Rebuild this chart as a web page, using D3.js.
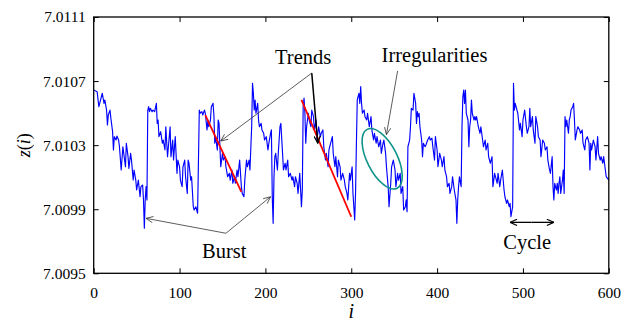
<!DOCTYPE html>
<html>
<head>
<meta charset="utf-8">
<script src="https://cdn.jsdelivr.net/npm/d3@7"></script>
<style>
  body { margin: 0; background: #fff; }
  svg { display: block; font-family: "Liberation Serif", "Times New Roman", serif; }
</style>
</head>
<body>
<script>
(function (d3) {
  "use strict";

  /***** Data *****/
  var xTicks = [0, 100, 200, 300, 400, 500, 600];
  var yTicks = [7.0095, 7.0099, 7.0103, 7.0107, 7.0111];

  // [i, z(i)]
  var series = [
    [0,7.010644],[4,7.010634],[6,7.010540],[8,7.010582],[10,7.010624],[12,7.010561],[13,7.010582],[15,7.010519],
    [16,7.010426],[17,7.010488],[19,7.010519],[20,7.010468],[22,7.010384],[23,7.010270],[24,7.010353],[26,7.010332],
    [27,7.010357],[29,7.010332],[30,7.010290],[32,7.010145],[34,7.010290],[35,7.010249],[37,7.010165],[38,7.010312],
    [40,7.010228],[41,7.010155],[43,7.010249],[44,7.010207],[46,7.010082],[47,7.010145],[49,7.010082],[50,7.010020],
    [52,7.010082],[54,7.009978],[55,7.010041],[57,7.010051],[58,7.009958],[59,7.009781],[60,7.009958],[61,7.010041],
    [62,7.009958],[63,7.010519],[64,7.010540],[65,7.010509],[66,7.010530],[68,7.010509],[69,7.010519],[71,7.010509],
    [73,7.010561],[74,7.010436],[75,7.010457],[76,7.010353],[78,7.010384],[80,7.010312],[81,7.010332],[83,7.010270],
    [84,7.010415],[86,7.010228],[87,7.010290],[89,7.010415],[90,7.010228],[92,7.010332],[93,7.010207],[95,7.010353],
    [97,7.010124],[98,7.010207],[100,7.010165],[101,7.010082],[103,7.010041],[104,7.010165],[106,7.010207],[107,7.010103],
    [109,7.009999],[110,7.010207],[111,7.010187],[113,7.010082],[114,7.010103],[116,7.009916],[117,7.009895],[119,7.009916],
    [121,7.009875],[123,7.010519],[124,7.010499],[126,7.010509],[127,7.010488],[129,7.010519],[130,7.010499],[132,7.010395],
    [133,7.010457],[134,7.010415],[136,7.010457],[137,7.010540],[139,7.010561],[140,7.010488],[141,7.010312],[142,7.010353],
    [144,7.010270],[145,7.010457],[146,7.010436],[147,7.010290],[148,7.010165],[150,7.010249],[151,7.010207],[153,7.010228],
    [154,7.010165],[156,7.010103],[158,7.010124],[159,7.010082],[161,7.010145],[162,7.010062],[164,7.010103],[165,7.010062],
    [167,7.010145],[168,7.010103],[170,7.010207],[172,7.010041],[173,7.009999],[175,7.009978],[176,7.010082],[178,7.010207],
    [179,7.010165],[181,7.010207],[182,7.010145],[184,7.010415],[185,7.010686],[186,7.010624],[187,7.010519],[188,7.010582],
    [189,7.010499],[191,7.010561],[192,7.010457],[193,7.010415],[195,7.010436],[196,7.010395],[198,7.010374],[199,7.010332],
    [201,7.010353],[203,7.010270],[204,7.010312],[206,7.010374],[207,7.010395],[208,7.009978],[209,7.009812],[210,7.010103],
    [211,7.010228],[212,7.010249],[214,7.010145],[215,7.010249],[217,7.010415],[218,7.010436],[220,7.010249],[221,7.010145],
    [223,7.010187],[224,7.010145],[226,7.010207],[227,7.010103],[229,7.010124],[231,7.010082],[232,7.010103],[234,7.010041],
    [235,7.010103],[237,7.010062],[238,7.009999],[240,7.010124],[241,7.010020],[242,7.009916],[243,7.010020],[244,7.010540],
    [245,7.010594],[246,7.010499],[247,7.010312],[248,7.010415],[250,7.010499],[251,7.010457],[253,7.010415],[254,7.010519],
    [256,7.010478],[257,7.010395],[259,7.010457],[260,7.010332],[262,7.010415],[264,7.010353],[265,7.010374],[267,7.010395],
    [268,7.010290],[270,7.010207],[271,7.010249],[273,7.010165],[274,7.010270],[276,7.010312],[278,7.010353],[279,7.010249],
    [281,7.010165],[282,7.010228],[284,7.010103],[285,7.010207],[287,7.010165],[288,7.010082],[290,7.010124],[292,7.010082],
    [293,7.010041],[295,7.009999],[296,7.009958],[298,7.010124],[299,7.010082],[301,7.010165],[302,7.009999],[304,7.009833],
    [305,7.009999],[306,7.010312],[307,7.010582],[309,7.010624],[310,7.010561],[311,7.010665],[312,7.010561],[313,7.010499],
    [315,7.010519],[316,7.010478],[318,7.010457],[319,7.010499],[321,7.010415],[323,7.010478],[324,7.010395],[326,7.010332],
    [327,7.010374],[329,7.010312],[330,7.010353],[332,7.010290],[334,7.010332],[335,7.010249],[337,7.010312],[338,7.010332],
    [340,7.010249],[341,7.010165],[343,7.010041],[344,7.009916],[346,7.010062],[347,7.010165],[349,7.010207],[351,7.010145],
    [352,7.010041],[354,7.010124],[355,7.010082],[357,7.010124],[358,7.009999],[360,7.010041],[361,7.009895],[363,7.009916],
    [364,7.009958],[365,7.009885],[366,7.010290],[368,7.010332],[369,7.010415],[370,7.010530],[372,7.010519],[373,7.010624],
    [375,7.010561],[376,7.010436],[377,7.010509],[378,7.010478],[379,7.010499],[380,7.010415],[382,7.010332],[383,7.010228],
    [384,7.010312],[386,7.010290],[387,7.010301],[389,7.010332],[391,7.010353],[392,7.010332],[394,7.010343],[395,7.010290],
    [397,7.010207],[398,7.010353],[400,7.010270],[401,7.010165],[403,7.010249],[405,7.010207],[406,7.010165],[408,7.010228],
    [409,7.010145],[411,7.010103],[412,7.010041],[414,7.010062],[415,7.009999],[417,7.010041],[418,7.010103],[420,7.010020],
    [422,7.009958],[423,7.009812],[424,7.009958],[425,7.010041],[426,7.010103],[428,7.010041],[429,7.010415],[430,7.010602],
    [431,7.010644],[432,7.010561],[433,7.010644],[434,7.010499],[436,7.010457],[437,7.010290],[438,7.010415],[439,7.010457],
    [440,7.010582],[441,7.010499],[443,7.010457],[444,7.010478],[445,7.010457],[446,7.010478],[448,7.010415],[450,7.010374],
    [451,7.010415],[453,7.010332],[454,7.010290],[456,7.010332],[457,7.010270],[459,7.010312],[460,7.010228],[462,7.010187],
    [464,7.010228],[465,7.010041],[467,7.010124],[468,7.010103],[470,7.010062],[471,7.010124],[473,7.010041],[474,7.010082],
    [476,7.010145],[478,7.010020],[479,7.009978],[481,7.009937],[482,7.009958],[484,7.009916],[485,7.009937],[486,7.009853],
    [488,7.009916],[489,7.010686],[490,7.010519],[491,7.010561],[493,7.010519],[494,7.010499],[496,7.010395],[497,7.010436],
    [499,7.010353],[500,7.010457],[502,7.010519],[504,7.010415],[505,7.010374],[507,7.010415],[508,7.010530],[509,7.010415],
    [511,7.010478],[512,7.010395],[514,7.010312],[515,7.010478],[517,7.010415],[518,7.010353],[520,7.010332],[521,7.010228],
    [523,7.010332],[525,7.010312],[526,7.010270],[528,7.010290],[529,7.010207],[531,7.010145],[532,7.010124],[534,7.010228],
    [535,7.010041],[536,7.009958],[537,7.010062],[539,7.010020],[540,7.010062],[541,7.009999],[542,7.010062],[543,7.010103],
    [544,7.009999],[546,7.010082],[547,7.010145],[548,7.009999],[549,7.010478],[550,7.010415],[551,7.010457],[553,7.010374],
    [554,7.010457],[555,7.010478],[556,7.010519],[558,7.010540],[559,7.010561],[560,7.010457],[561,7.010332],[563,7.010395],
    [564,7.010415],[566,7.010395],[567,7.010374],[569,7.010395],[570,7.010312],[572,7.010270],[573,7.010332],[575,7.010353],
    [577,7.010312],[578,7.010145],[579,7.010312],[580,7.010270],[582,7.010332],[584,7.010290],[585,7.010207],[587,7.010353],
    [588,7.010249],[590,7.010207],[591,7.010228],[593,7.010187],[594,7.010228],[596,7.010145],[597,7.010103],[600,7.010082]
  ];

  // trend lines (red), endpoints [i, z]
  var trendLines = [
    [[130, 7.010488], [172, 7.010009]],
    [[242, 7.010582], [300, 7.009853]]
  ];

  // annotation labels, anchored at [i, z]
  var labels = [
    { text: "Trends", at: [244, 7.010806] },
    { text: "Irregularities", at: [397, 7.010821] },
    { text: "Burst", at: [152, 7.009597] },
    { text: "Cycle", at: [505, 7.009649] }
  ];

  // arrows: from -> to, in [i, z]
  var arrows = [
    { from: [254, 7.010750], to: [148, 7.010326], kind: "thin" },
    { from: [254, 7.010750], to: [261, 7.010313], kind: "bold" },
    { from: [354, 7.010763], to: [341, 7.010366], kind: "thin" },
    { from: [154, 7.009750], to: [61, 7.009843], kind: "thin" },
    { from: [154, 7.009750], to: [206, 7.009978], kind: "thin" },
    { from: [510, 7.009818], to: [485, 7.009818], kind: "cycle" },
    { from: [510, 7.009818], to: [536, 7.009818], kind: "cycle" }
  ];

  var irregularity = { center: [336, 7.010215], rx: 33, ry: 15, angle: 63 };

  /***** Configuration *****/
  var W = 637, H = 323;
  var margin = { top: 17, right: 28.2, bottom: 49.7, left: 93.7 };
  var width = W - margin.left - margin.right;
  var height = H - margin.top - margin.bottom;

  var x = d3.scaleLinear().domain([0, 600]).range([0, width]);
  var y = d3.scaleLinear().domain([7.0095, 7.0111]).range([height, 0]);

  var svg = d3.select("body").append("svg")
    .attr("width", W)
    .attr("height", H);

  var defs = svg.append("defs");
  function marker(id, color, w) {
    defs.append("marker")
      .attr("id", id)
      .attr("viewBox", "0 0 10 10")
      .attr("refX", 10).attr("refY", 5)
      .attr("markerUnits", "userSpaceOnUse")
      .attr("markerWidth", 8).attr("markerHeight", 7)
      .attr("orient", "auto")
      .append("path")
      .attr("d", "M0,0.5 L10,5 L0,9.5")
      .attr("fill", "none")
      .attr("stroke", color)
      .attr("stroke-width", w);
  }
  marker("headThin", "#333", 1.1);
  marker("headBold", "#000", 1.8);
  marker("headCycle", "#000", 1.6);

  var g = svg.append("g")
    .attr("transform", "translate(" + margin.left + "," + margin.top + ")");

  /***** Axes *****/
  var fmt = d3.format(".4f");
  var bottom = g.append("g")
    .attr("transform", "translate(0," + height + ")")
    .call(d3.axisBottom(x).tickValues(xTicks).tickSize(-5).tickSizeOuter(0).tickPadding(13.4));
  var left = g.append("g")
    .call(d3.axisLeft(y).tickValues(yTicks).tickFormat(fmt).tickSize(-5).tickSizeOuter(0).tickPadding(8));
  var top = g.append("g")
    .call(d3.axisTop(x).tickValues(xTicks).tickSize(-5).tickSizeOuter(0).tickFormat(""));
  var right = g.append("g")
    .attr("transform", "translate(" + width + ",0)")
    .call(d3.axisRight(y).tickValues(yTicks).tickSize(-5).tickSizeOuter(0).tickFormat(""));

  [bottom, left, top, right].forEach(function (a) {
    a.select(".domain").remove();
    a.selectAll("line").attr("stroke", "#000").attr("stroke-width", 1);
    a.selectAll("text")
      .attr("fill", "#000")
      .style("font-family", "'Liberation Serif', 'Times New Roman', serif")
      .style("font-size", "15.5px");
  });

  /***** Series *****/
  var line = d3.line()
    .x(function (d) { return x(d[0]); })
    .y(function (d) { return y(d[1]); });

  g.append("path")
    .datum(series)
    .attr("fill", "none")
    .attr("stroke", "#0000ff")
    .attr("stroke-width", 1.15)
    .attr("stroke-linejoin", "round")
    .attr("d", line);

  g.selectAll(".trend")
    .data(trendLines)
    .enter().append("path")
    .attr("class", "trend")
    .attr("fill", "none")
    .attr("stroke", "#ff0000")
    .attr("stroke-width", 1.8)
    .attr("d", line);

  g.append("ellipse")
    .attr("cx", 0).attr("cy", 0)
    .attr("rx", irregularity.rx).attr("ry", irregularity.ry)
    .attr("transform", "translate(" + x(irregularity.center[0]) + "," + y(irregularity.center[1]) + ") rotate(" + irregularity.angle + ")")
    .attr("fill", "none")
    .attr("stroke", "#0f948a")
    .attr("stroke-width", 1.6);

  /***** Annotations *****/
  g.selectAll(".arrow")
    .data(arrows)
    .enter().append("line")
    .attr("class", "arrow")
    .attr("x1", function (d) { return x(d.from[0]); })
    .attr("y1", function (d) { return y(d.from[1]); })
    .attr("x2", function (d) { return x(d.to[0]); })
    .attr("y2", function (d) { return y(d.to[1]); })
    .attr("stroke", function (d) { return d.kind === "thin" ? "#333" : "#000"; })
    .attr("stroke-width", function (d) { return d.kind === "thin" ? 0.8 : (d.kind === "bold" ? 1.5 : 1.3); })
    .attr("marker-end", function (d) {
      return d.kind === "thin" ? "url(#headThin)" : (d.kind === "bold" ? "url(#headBold)" : "url(#headCycle)");
    });

  g.selectAll(".note")
    .data(labels)
    .enter().append("text")
    .attr("class", "note")
    .attr("x", function (d) { return x(d.at[0]); })
    .attr("y", function (d) { return y(d.at[1]); })
    .attr("text-anchor", "middle")
    .style("font-size", "20.5px")
    .text(function (d) { return d.text; });

  /***** Axis titles *****/
  g.append("text")
    .attr("x", width / 2 + (x(300) - width / 2))
    .attr("y", height + 45)
    .attr("text-anchor", "middle")
    .style("font-size", "20px")
    .style("font-style", "italic")
    .text("i");

  var yTitle = svg.append("text")
    .attr("transform", "translate(30," + (margin.top + y(7.0103)) + ") rotate(-90)")
    .attr("text-anchor", "middle")
    .style("font-size", "18px");
  yTitle.append("tspan").style("font-style", "italic").text("z");
  yTitle.append("tspan").text("(");
  yTitle.append("tspan").style("font-style", "italic").text("i");
  yTitle.append("tspan").text(")");

  /***** Frame *****/
  g.append("rect")
    .attr("x", 0).attr("y", 0)
    .attr("width", width).attr("height", height)
    .attr("fill", "none")
    .attr("stroke", "#000")
    .attr("stroke-width", 1.3);

})(d3);
</script>
</body>
</html>
